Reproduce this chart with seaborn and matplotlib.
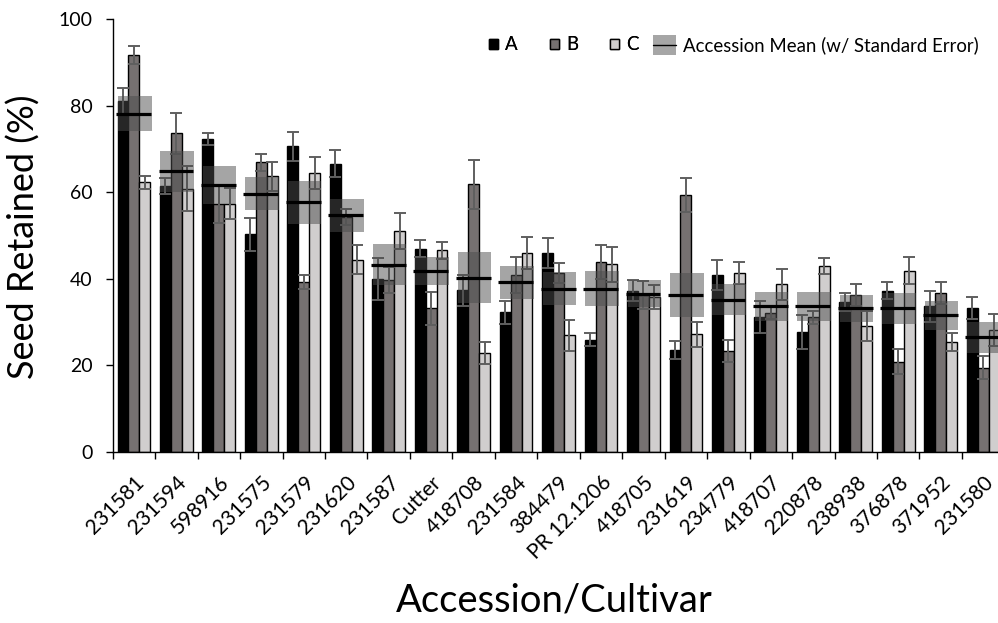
import numpy as np
import pandas as pd
import matplotlib
matplotlib.use("Agg")
import matplotlib.pyplot as plt
from matplotlib.lines import Line2D
from matplotlib.patches import Patch, Rectangle
from matplotlib.legend_handler import HandlerBase
import seaborn as sns

# Seed retention by accession/cultivar for three groups, with accession means
accessions = ["231581", "231594", "598916", "231575", "231579", "231620", "231587",
              "Cutter", "418708", "231584", "384479", "PR 12.1206", "418705", "231619",
              "234779", "418707", "220878", "238938", "376878", "371952", "231580"]

group_a = [81.1, 61.5, 72.4, 50.3, 70.7, 66.7, 40.0, 47.0, 37.4, 32.3, 46.0,
           26.0, 37.3, 23.6, 41.0, 31.2, 27.8, 34.7, 37.3, 33.7, 33.3]
group_a_err = [3.0, 1.8, 1.4, 3.9, 3.4, 3.1, 4.8, 2.0, 3.6, 2.6, 3.4,
               1.5, 2.4, 2.0, 3.5, 3.6, 3.9, 2.1, 2.0, 3.6, 2.5]
group_b = [91.8, 73.7, 57.4, 67.0, 39.3, 54.3, 39.7, 33.2, 61.9, 40.9, 41.4,
           43.9, 36.3, 59.5, 23.4, 32.2, 31.2, 36.3, 20.9, 36.8, 19.5]
group_b_err = [2.1, 4.7, 4.4, 2.0, 1.7, 1.8, 3.0, 3.9, 5.7, 4.1, 2.4,
               3.9, 3.3, 3.9, 2.6, 1.5, 1.5, 2.5, 2.8, 2.6, 2.6]
group_c = [62.4, 60.9, 57.4, 63.7, 64.5, 44.5, 51.1, 46.6, 22.9, 46.0, 27.0,
           43.4, 35.9, 27.2, 41.4, 38.8, 43.0, 29.1, 41.9, 25.5, 28.2]
group_c_err = [1.5, 5.2, 3.6, 3.3, 3.7, 3.4, 4.1, 2.0, 2.6, 3.6, 3.6,
               4.1, 2.8, 2.9, 2.6, 3.6, 1.8, 3.4, 3.1, 2.1, 3.7]
acc_mean = [78.2, 64.9, 61.8, 59.7, 57.7, 54.7, 43.3, 41.8, 40.3, 39.2, 37.8,
            37.8, 36.6, 36.3, 35.2, 33.7, 33.7, 33.2, 33.2, 31.6, 26.5]
acc_se = [4.0, 4.8, 4.4, 3.8, 4.9, 3.9, 4.8, 3.3, 5.9, 3.8, 3.9,
          4.1, 3.1, 5.1, 3.6, 3.3, 3.3, 3.1, 3.5, 3.4, 3.5]

groups = ["A", "B", "C"]
colors = {"A": "#000000", "B": "#767171", "C": "#d0cece"}

df = pd.DataFrame({
    "Accession": accessions * 3,
    "Group": [g for g in groups for _ in accessions],
    "Retained": group_a + group_b + group_c,
})
errs = [group_a_err, group_b_err, group_c_err]


class MeanBandHandler(HandlerBase):
    """Legend key: grey standard-error band with the mean line through it."""

    def create_artists(self, legend, orig_handle, xdescent, ydescent, width,
                       height, fontsize, trans):
        band = Rectangle((-xdescent, -ydescent), width, height,
                         facecolor="#a6a6a6", edgecolor="none", transform=trans)
        y = -ydescent + height / 2
        line = Line2D([-xdescent, -xdescent + width], [y, y], color="black",
                      linewidth=1.0, transform=trans)
        return [band, line]


sns.set_theme(style="white")
plt.rcParams["font.family"] = ["Lato", "DejaVu Sans"]
plt.rcParams.update({"text.color": "black", "axes.labelcolor": "black",
                     "xtick.color": "black", "ytick.color": "black"})

fig = plt.figure(figsize=(9.98, 6.23), dpi=100)
ax = fig.add_axes([0.1129, 0.2745, 0.8935, 0.6942])

sns.barplot(data=df, x="Accession", y="Retained", hue="Group", order=accessions,
            hue_order=groups, palette=colors, width=0.77, gap=0, errorbar=None,
            edgecolor="black", linewidth=1.0, saturation=1, legend=False, ax=ax, zorder=2)

# error bars centred on each bar
for cont, err in zip(ax.containers, errs):
    xs = [p.get_x() + p.get_width() / 2 for p in cont]
    ys = [p.get_height() for p in cont]
    ax.errorbar(xs, ys, yerr=err, fmt="none", ecolor="#5f5f5f", elinewidth=1.4,
                capsize=4, capthick=1.4, zorder=3)

# accession mean with standard error band
pos = np.arange(len(accessions))
lo = np.array(acc_mean) - np.array(acc_se)
ax.bar(pos + 0.02, 2 * np.array(acc_se), bottom=lo, width=0.79, color="#4c4c4c",
       alpha=0.5, linewidth=0, zorder=4)
ax.hlines(acc_mean, pos - 0.42, pos + 0.40, color="black", linewidth=2.3, zorder=5)

ax.set_xlim(-0.5, len(accessions) - 0.5)
ax.set_ylim(0, 100)
ax.set_yticks([0, 20, 40, 60, 80, 100])
ax.set_xticks(pos)
ax.set_xticks(np.arange(len(accessions) + 1) - 0.5, minor=True)
ax.set_xticklabels(accessions, rotation=45, ha="right", rotation_mode="anchor",
                   fontsize=15)
ax.tick_params(axis="x", which="major", length=0, pad=14.5)
ax.tick_params(axis="x", which="minor", length=5, width=1, color="black",
               direction="out", bottom=True)
ax.tick_params(axis="y", length=5, width=1, color="black", direction="out",
               left=True, labelsize=14, pad=9.5)

for s in ["top", "right"]:
    ax.spines[s].set_visible(False)
for s in ["left", "bottom"]:
    ax.spines[s].set_color("black")
    ax.spines[s].set_linewidth(1.0)

ax.set_xlabel("")
ax.set_ylabel("")
fig.text(0.555, 0.036, "Accession/Cultivar", ha="center", va="center", fontsize=27.5)
fig.text(0.024, 0.62, "Seed Retained (%)", ha="center", va="center",
         rotation=90, fontsize=26)

# legend: group swatches
group_handles = [Patch(facecolor=colors[g], edgecolor="black", linewidth=1.0)
                 for g in groups]
leg1 = fig.legend(group_handles, groups, loc="center left",
                  bbox_to_anchor=(489 / 998, 1 - 45 / 623), ncol=3, frameon=False,
                  fontsize=13.4, handlelength=0.5, handleheight=0.5,
                  handletextpad=0.38, columnspacing=1.7, borderpad=0, borderaxespad=0)

# legend: mean with standard error band
mean_key = Patch(facecolor="#a6a6a6")
fig.legend([mean_key], ["Accession Mean (w/ Standard Error)"],
           handler_map={Patch: MeanBandHandler()},
           loc="center left", bbox_to_anchor=(653 / 998, 1 - 45 / 623), frameon=False,
           fontsize=13.4, handlelength=1.24, handleheight=1.2, handletextpad=0.38,
           borderpad=0, borderaxespad=0)
fig.add_artist(leg1)

fig.savefig("out.png", dpi=100)
